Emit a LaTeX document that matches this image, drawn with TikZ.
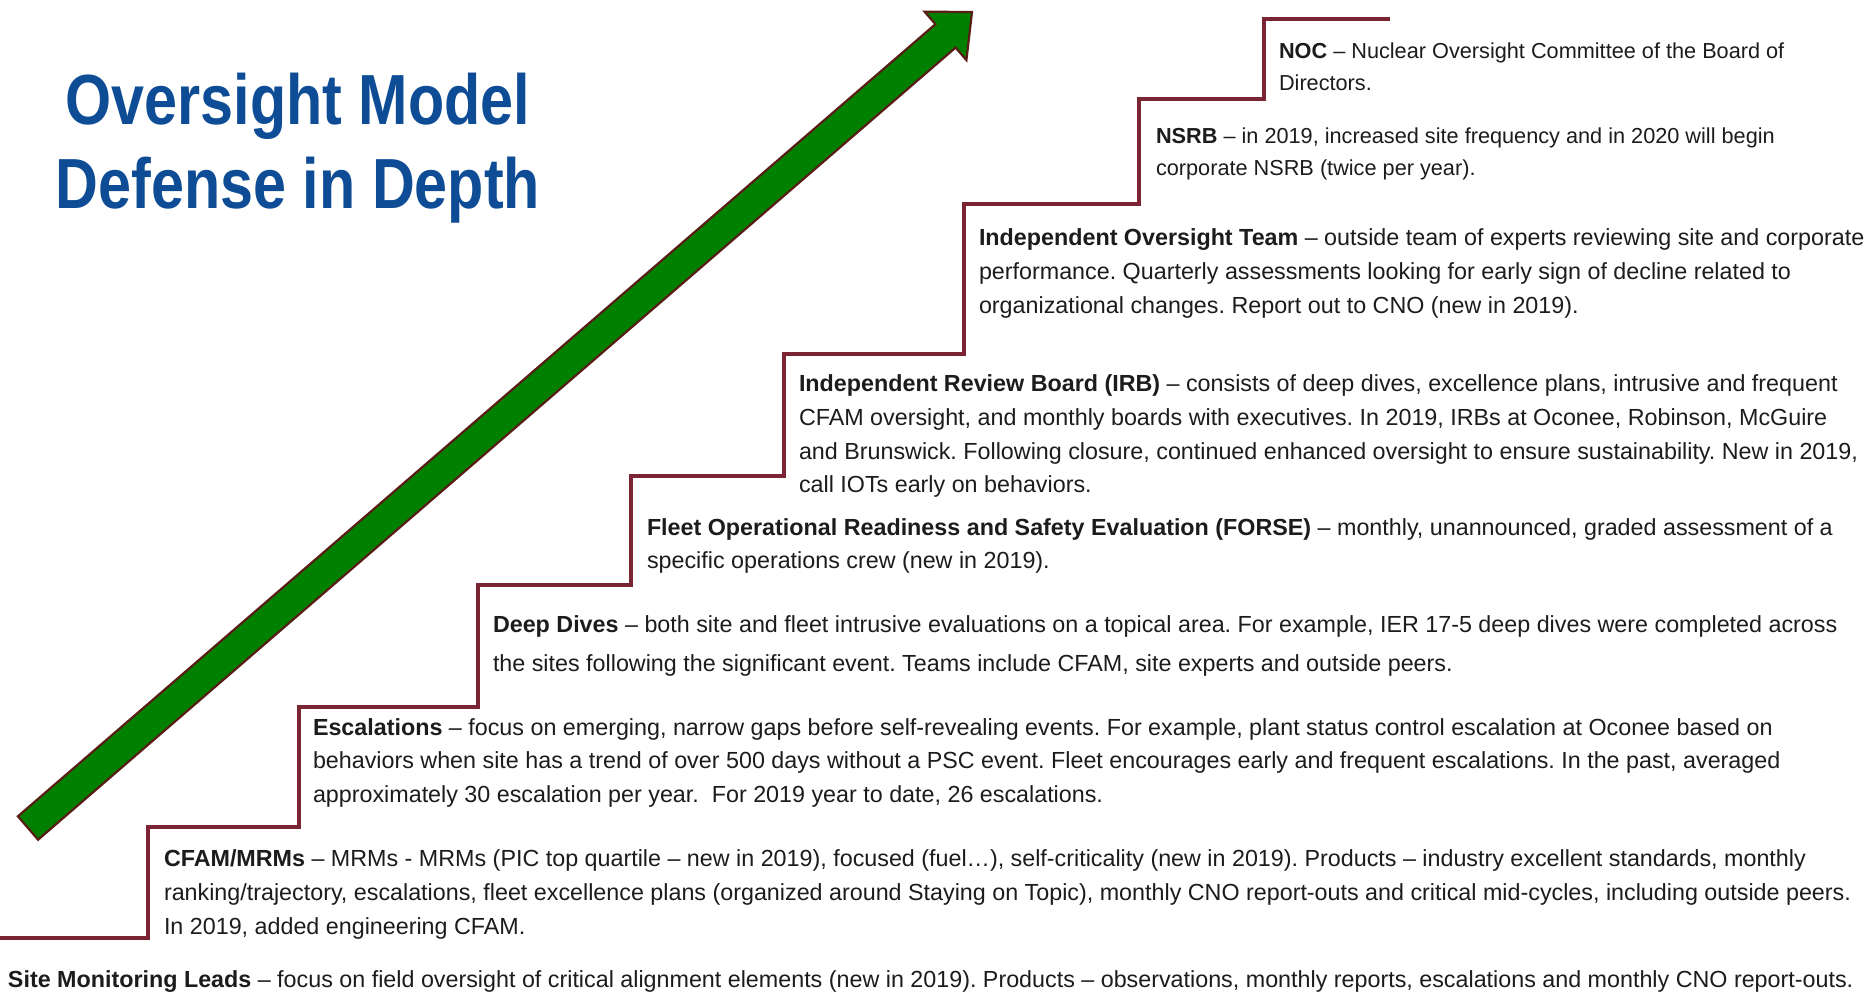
\documentclass[tikz,border=0pt]{standalone}
\usepackage{fontspec}
\setmainfont{Liberation Sans}
\newfontfamily\titlefont[FakeStretch=0.835]{Liberation Sans}
\definecolor{titleblue}{RGB}{14,76,150}
\definecolor{stairred}{RGB}{122,36,52}
\definecolor{arrowgreen}{RGB}{0,128,0}
\definecolor{arrowedge}{RGB}{88,30,22}
\definecolor{bodytext}{RGB}{28,28,28}
\frenchspacing
\begin{document}
\begin{tikzpicture}[x=0.5pt,y=-0.5pt,
  txt/.style={anchor=base west, inner sep=0pt, outer sep=0pt, font=\fontsize{11.65}{13}\selectfont, text=bodytext},
  smalltxt/.style={txt, font=\fontsize{10.85}{13}\selectfont},
  ttl/.style={anchor=base, inner sep=0pt, outer sep=0pt, font=\titlefont\bfseries\fontsize{35.5}{40}\selectfont, text=titleblue},
  stair/.style={draw=stairred, line width=2.3pt, line join=miter},
  bigarrow/.style={fill=arrowgreen, draw=arrowedge, line width=1.1pt, line join=miter}]
\fill[white] (0,0) rectangle (1868,1001);
\useasboundingbox (0,0) rectangle (1868,1001);

% title
\node[ttl] (t1) at (298,124) {Oversight Model};
\node[ttl] (t2) at (298,208) {Defense in Depth};

% arrow
\filldraw[bigarrow] (17.9,816.3) -- (935.4,24.2) -- (924.6,11.7) -- (972,12) -- (966.4,60.1) -- (955.6,47.6) -- (38.1,839.7) -- cycle;

% staircase
\coordinate (s0) at (0,938);
\coordinate (s1) at (148,938);
\coordinate (s2) at (148,827);
\coordinate (s3) at (299,827);
\coordinate (s4) at (299,707);
\coordinate (s5) at (478,707);
\coordinate (s6) at (478,585);
\coordinate (s7) at (631,585);
\coordinate (s8) at (631,476);
\coordinate (s9) at (784,476);
\coordinate (s10) at (784,354);
\coordinate (s11) at (964,354);
\coordinate (s12) at (964,204);
\coordinate (s13) at (1139,204);
\coordinate (s14) at (1139,99);
\coordinate (s15) at (1264,99);
\coordinate (s16) at (1264,19);
\coordinate (s17) at (1390,19);
\draw[stair] (s0) -- (s1) -- (s2) -- (s3) -- (s4) -- (s5) -- (s6) -- (s7) -- (s8) -- (s9) -- (s10) -- (s11) -- (s12) -- (s13) -- (s14) -- (s15) -- (s16) -- (s17);

% NOC
\node[smalltxt] (noc1) at (1279,58) {\textbf{NOC} – Nuclear Oversight Committee of the Board of};
\node[smalltxt] (noc2) at (1279,90) {Directors.};
% NSRB
\node[smalltxt] (nsrb1) at (1156,143) {\textbf{NSRB} – in 2019, increased site frequency and in 2020 will begin};
\node[smalltxt] (nsrb2) at (1156,175) {corporate NSRB (twice per year).};
% IOT
\node[txt] (iot1) at (979,245) {\textbf{Independent Oversight Team} – outside team of experts reviewing site and corporate};
\node[txt] (iot2) at (979,279) {performance. Quarterly assessments looking for early sign of decline related to};
\node[txt] (iot3) at (979,313) {organizational changes. Report out to CNO (new in 2019).};
% IRB
\node[txt] (irb1) at (799,391) {\textbf{Independent Review Board (IRB)} – consists of deep dives, excellence plans, intrusive and frequent};
\node[txt] (irb2) at (799,425) {CFAM oversight, and monthly boards with executives. In 2019, IRBs at Oconee, Robinson, McGuire};
\node[txt] (irb3) at (799,459) {and Brunswick. Following closure, continued enhanced oversight to ensure sustainability. New in 2019,};
\node[txt] (irb4) at (799,492) {call IOTs early on behaviors.};
% FORSE
\node[txt] (forse1) at (647,535) {\textbf{Fleet Operational Readiness and Safety Evaluation (FORSE)} – monthly, unannounced, graded assessment of a};
\node[txt] (forse2) at (647,568) {specific operations crew (new in 2019).};
% Deep Dives
\node[txt] (dd1) at (493,632) {\textbf{Deep Dives} – both site and fleet intrusive evaluations on a topical area. For example, IER 17-5 deep dives were completed across};
\node[txt] (dd2) at (493,671) {the sites following the significant event. Teams include CFAM, site experts and outside peers.};
% Escalations
\node[txt] (esc1) at (313,735) {\textbf{Escalations} – focus on emerging, narrow gaps before self-revealing events. For example, plant status control escalation at Oconee based on};
\node[txt] (esc2) at (313,768) {behaviors when site has a trend of over 500 days without a PSC event. Fleet encourages early and frequent escalations. In the past, averaged};
\node[txt] (esc3) at (313,802) {approximately 30 escalation per year.\ \ For 2019 year to date, 26 escalations.};
% CFAM
\node[txt] (cf1) at (164,866) {\textbf{CFAM/MRMs} – MRMs - MRMs (PIC top quartile – new in 2019), focused (fuel…), self-criticality (new in 2019). Products – industry excellent standards, monthly};
\node[txt] (cf2) at (164,900) {ranking/trajectory, escalations, fleet excellence plans (organized around Staying on Topic), monthly CNO report-outs and critical mid-cycles, including outside peers.};
\node[txt] (cf3) at (164,934) {In 2019, added engineering CFAM.};
% Site
\node[txt] (site) at (8,987) {\textbf{Site Monitoring Leads} – focus on field oversight of critical alignment elements (new in 2019). Products – observations, monthly reports, escalations and monthly CNO report-outs.};
\end{tikzpicture}
\end{document}
